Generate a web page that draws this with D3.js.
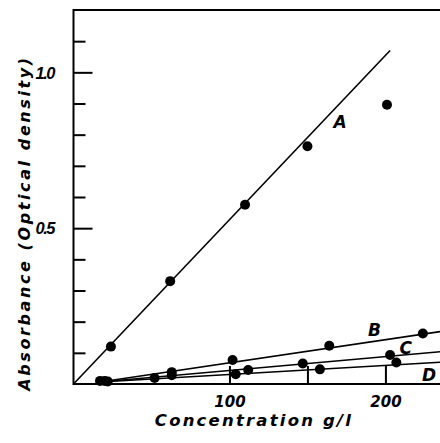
<!DOCTYPE html>
<html>
<head>
<meta charset="utf-8">
<script src="https://cdn.jsdelivr.net/npm/d3@7"></script>
<style>
  body { margin: 0; background: #fff; }
  svg text { font-family: "DejaVu Sans", sans-serif; font-weight: bold; font-style: oblique; fill: #000; }
</style>
</head>
<body>
<div id="chart"></div>
<script>
// data
var seriesNames = ["A", "B", "C", "D"];
var pointsA = [[24, 0.12], [62, 0.33], [110, 0.575], [150, 0.763], [201, 0.896]];
var pointsB = [[17, 0.010], [63, 0.038], [102, 0.077], [164, 0.123], [224, 0.162]];
var pointsC = [[20, 0.010], [63, 0.028], [112, 0.045], [147, 0.066], [203, 0.093]];
var pointsD = [[22, 0.008], [52, 0.019], [104, 0.031], [158, 0.047], [207, 0.069]];
// fitted lines (start, end)
var fitA = [[0, 0], [203, 1.07]];
var fitB = [[17, 0.0064], [235, 0.168]];
var fitC = [[17, 0.0064], [235, 0.1035]];
var fitD = [[17, 0.0064], [235, 0.0696]];
// where the letter sits next to each line
var labelPos = [[171, 0.84], [193, 0.172], [213, 0.114], [228, 0.029]];
var yTicks = [0.1, 0.2, 0.3, 0.4, 0.5, 0.6, 0.7, 0.8, 0.9, 1.0, 1.1];
var yLabels = [0.5, 1.0];
var xTicks = [100, 150, 200];
var xLabels = [100, 200];

var width = 440, height = 443;
var x = d3.scaleLinear().domain([0, 235]).range([73.5, 440]);
var y = d3.scaleLinear().domain([0, 1.2]).range([384, 10]);

var svg = d3.select("#chart").append("svg")
    .attr("width", width)
    .attr("height", height);

// frame: left, bottom, top (no right side)
svg.append("path")
    .attr("d", "M" + x(235) + "," + y(1.2) + "H" + x(0) + "V" + y(0) + "H" + x(235))
    .attr("fill", "none")
    .attr("stroke", "#000")
    .attr("stroke-width", 2);

// y ticks pointing inward, longer at 0.5 and 1.0
var yAxis = svg.append("g")
    .attr("transform", "translate(" + x(0) + ",0)")
    .call(d3.axisRight(y).tickValues(yTicks).tickSize(12).tickFormat(""));
yAxis.select(".domain").remove();
yAxis.selectAll(".tick line")
    .attr("stroke-width", 2)
    .attr("x2", function(d) { return (d == 0.5 || d == 1.0) ? 19 : 12; });

var yLab = svg.append("g")
    .attr("transform", "translate(54,0)")
    .call(d3.axisLeft(y).tickValues(yLabels).tickSize(0).tickFormat(d3.format(".1f")));
yLab.select(".domain").remove();
yLab.selectAll("text")
    .style("font-family", "'Liberation Sans', sans-serif")
    .style("font-size", "16.5px")
    .style("letter-spacing", "-1.5px")
    .attr("dy", "0.35em")
    .attr("x", 0)
    .attr("text-anchor", "end");

// x ticks pointing up from the bottom
var xAxis = svg.append("g")
    .attr("transform", "translate(0," + y(0) + ")")
    .call(d3.axisTop(x).tickValues(xTicks).tickSize(18).tickFormat(""));
xAxis.select(".domain").remove();
xAxis.selectAll(".tick line").attr("stroke-width", 2);

var xLab = svg.append("g")
    .attr("transform", "translate(0," + y(0) + ")")
    .call(d3.axisBottom(x).tickValues(xLabels).tickSize(0).tickPadding(12).tickFormat(d3.format("d")));
xLab.select(".domain").remove();
xLab.selectAll("text").style("font-size", "15px").attr("dy", "0.71em");

// axis titles
svg.append("text")
    .attr("x", 254)
    .attr("y", 426)
    .attr("text-anchor", "middle")
    .style("font-size", "16.5px")
    .style("letter-spacing", "2.2px")
    .text("Concentration g/l");

svg.append("text")
    .attr("transform", "translate(30,223) rotate(-90)")
    .attr("text-anchor", "middle")
    .style("font-size", "16px")
    .style("letter-spacing", "2.6px")
    .text("Absorbance (Optical density)");

var line = d3.line()
    .x(function(d) { return x(d[0]); })
    .y(function(d) { return y(d[1]); });

var fits = [fitA, fitB, fitC, fitD];
var pts = [pointsA, pointsB, pointsC, pointsD];

svg.selectAll(".fit")
    .data(fits)
    .enter().append("path")
    .attr("class", "fit")
    .attr("d", line)
    .attr("fill", "none")
    .attr("stroke", "#000")
    .attr("stroke-width", 1.6);

pts.forEach(function(p) {
  svg.selectAll(null)
      .data(p)
      .enter().append("circle")
      .attr("cx", function(d) { return x(d[0]); })
      .attr("cy", function(d) { return y(d[1]); })
      .attr("r", 5)
      .attr("fill", "#000");
});

svg.selectAll(".lbl")
    .data(seriesNames)
    .enter().append("text")
    .attr("class", "lbl")
    .attr("x", function(d, i) { return x(labelPos[i][0]); })
    .attr("y", function(d, i) { return y(labelPos[i][1]); })
    .attr("text-anchor", "middle")
    .attr("dy", "0.35em")
    .style("font-size", "17px")
    .text(function(d) { return d; });
</script>
</body>
</html>
